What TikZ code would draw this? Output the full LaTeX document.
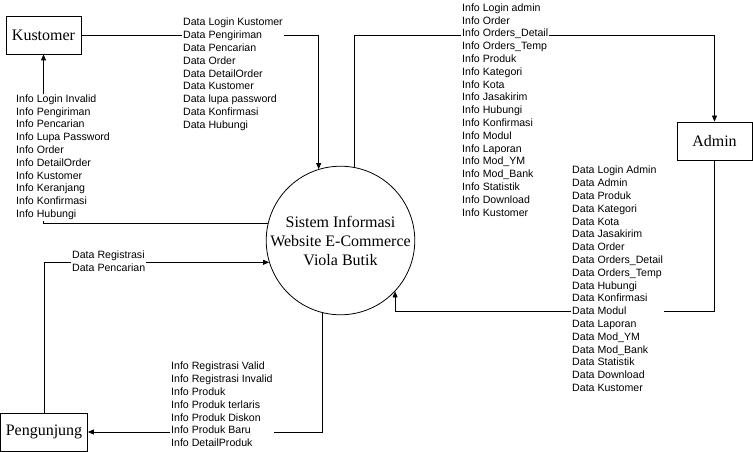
\documentclass[tikz,border=0pt]{standalone}
\usepackage{fontspec}
\setmainfont{Liberation Serif}
\newfontfamily\labfont{Liberation Sans}
\usetikzlibrary{arrows.meta,calc}
\begin{document}
\begin{tikzpicture}[x=1pt,y=-1pt,
  entity/.style={draw,line width=0.8pt,minimum height=38pt,inner sep=0pt,font=\fontsize{16}{19}\selectfont},
  proc/.style={draw,circle,line width=0.8pt,minimum size=147pt,inner sep=0pt,align=center,font=\fontsize{16}{19}\selectfont},
  flow/.style={line width=0.8pt,-{Triangle[length=6pt,width=5pt]}},
  lbl/.style={fill=white,inner sep=1pt,anchor=north west,align=left,font=\labfont\fontsize{10.6}{12.8}\selectfont}]
\useasboundingbox (0,0) rectangle (753,452);
\node[proc] (c) at (340.5,240.5) {Sistem Informasi\\Website E-Commerce\\Viola Butik};
\node[entity,minimum width=75pt] (kus) at (43.5,35) {Kustomer};
\node[entity,minimum width=75pt] (adm) at (714.5,141) {Admin};
\node[entity,minimum width=87pt] (pen) at (44,432) {Pengunjung};

\draw[flow] (kus.east) -| (c.107.8);
\draw[flow] (c.79) |- (adm.north |- kus.east) -- (adm.north);
\draw[flow] (adm.south) -- ($(adm.south)+(0,150.5)$) -| (c.-43.3);
\draw[flow] (c.167) -| (kus.south);
\draw[flow] (pen.north) |- (c.197);
\draw[flow] (c.256.2) |- (pen.east);

\node[lbl] (l1) at (182,17) {Data Login Kustomer\\Data Pengiriman\\Data Pencarian\\Data Order\\Data DetailOrder\\Data Kustomer\\Data lupa password\\Data Konfirmasi\\Data Hubungi};
\node[lbl] (l2) at (461,2.5) {Info Login admin\\Info Order\\Info Orders\_Detail\\Info Orders\_Temp\\Info Produk\\Info Kategori\\Info Kota\\Info Jasakirim\\Info Hubungi\\Info Konfirmasi\\Info Modul\\Info Laporan\\Info Mod\_YM\\Info Mod\_Bank\\Info Statistik\\Info Download\\Info Kustomer};
\node[lbl] (l3) at (571,165) {Data Login Admin\\Data Admin\\Data Produk\\Data Kategori\\Data Kota\\Data Jasakirim\\Data Order\\Data Orders\_Detail\\Data Orders\_Temp\\Data Hubungi\\Data Konfirmasi\\Data Modul\\Data Laporan\\Data Mod\_YM\\Data Mod\_Bank\\Data Statistik\\Data Download\\Data Kustomer};
\node[lbl] (l4) at (15,93.5) {Info Login Invalid\\Info Pengiriman\\Info Pencarian\\Info Lupa Password\\Info Order\\Info DetailOrder\\Info Kustomer\\Info Keranjang\\Info Konfirmasi\\Info Hubungi};
\node[lbl] (l5) at (71,250) {Data Registrasi\\Data Pencarian};
\node[lbl] (l6) at (170,361) {Info Registrasi Valid\\Info Registrasi Invalid\\Info Produk\\Info Produk terlaris\\Info Produk Diskon\\Info Produk Baru\\Info DetailProduk};
\end{tikzpicture}
\end{document}
